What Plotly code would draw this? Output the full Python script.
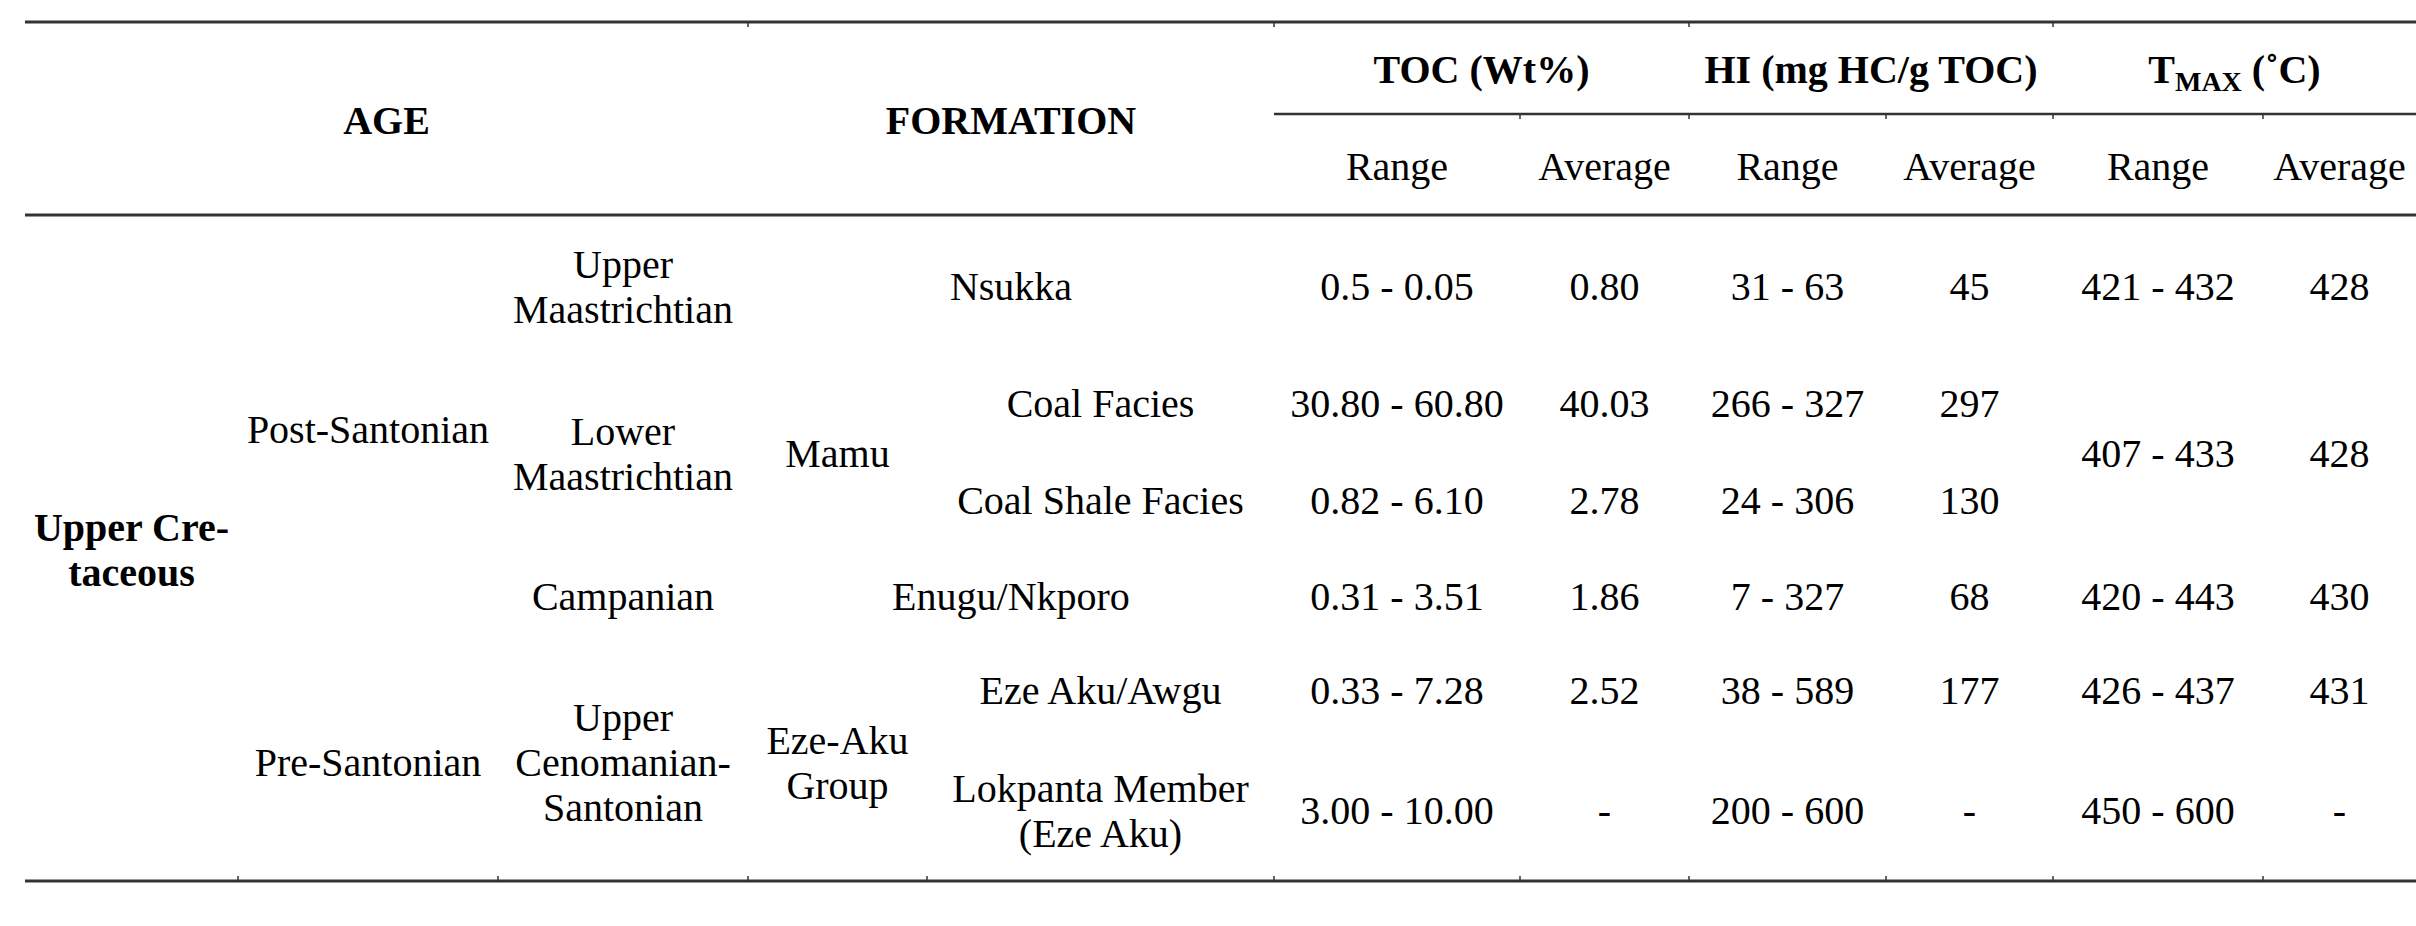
import plotly.graph_objects as go

# table content
era = ["Upper Cre-\ntaceous"]
stages = ["Post-Santonian", "Pre-Santonian"]
sub_ages = ["Upper\nMaastrichtian", "Lower\nMaastrichtian", "Campanian", "Upper\nCenomanian-\nSantonian"]
formations = ["Nsukka", "Mamu", "Enugu/Nkporo", "Eze-Aku\nGroup"]
members = ["Coal Facies", "Coal Shale Facies", "Eze Aku/Awgu", "Lokpanta Member\n(Eze Aku)"]

toc_range = ["0.5 - 0.05", "30.80 - 60.80", "0.82 - 6.10", "0.31 - 3.51", "0.33 - 7.28", "3.00 - 10.00"]
toc_avg = ["0.80", "40.03", "2.78", "1.86", "2.52", "-"]
hi_range = ["31 - 63", "266 - 327", "24 - 306", "7 - 327", "38 - 589", "200 - 600"]
hi_avg = ["45", "297", "130", "68", "177", "-"]
tmax_range = ["421 - 432", "407 - 433", "420 - 443", "426 - 437", "450 - 600"]
tmax_avg = ["428", "428", "430", "431", "-"]

group_heads = ["TOC (Wt%)", "HI (mg HC/g TOC)", "T<sub>MAX</sub> (˚C)"]
sub_heads = ["Range", "Average"]

# grid geometry (pixels)
W, H = 2416, 926
col_edges = [25, 238, 498, 748, 927, 1274, 1520, 1689, 1886, 2053, 2263, 2416]
row_edges = [215, 355, 449, 549, 641, 737, 881]
top_rule, mid_rule = 22, 114
FONT = "Liberation Serif"
SIZE = 40
LINE_GAP = 45
TEXT_DY = 5  # nudge text down a touch

xs, ys, txt, bold_flags = [], [], [], []


def put(text, c0, c1, y0, y1, bold=False):
    xc = (col_edges[c0] + col_edges[c1 + 1]) / 2
    yc = (y0 + y1) / 2 + TEXT_DY
    lines = text.split("\n")
    n = len(lines)
    for i, ln in enumerate(lines):
        xs.append(xc)
        ys.append(yc + (i - (n - 1) / 2) * LINE_GAP)
        txt.append(ln)
        bold_flags.append(bold)


def cell(text, c0, c1, r0, r1, bold=False):
    put(text, c0, c1, row_edges[r0], row_edges[r1 + 1], bold)


# header
put("AGE", 0, 2, top_rule, row_edges[0], True)
put("FORMATION", 3, 4, top_rule, row_edges[0], True)
for i, g in enumerate(group_heads):
    put(g, 5 + 2 * i, 6 + 2 * i, top_rule, mid_rule, True)
    for j, s in enumerate(sub_heads):
        put(s, 5 + 2 * i + j, 5 + 2 * i + j, mid_rule, row_edges[0])

# body - merged cells
cell(era[0], 0, 0, 0, 5, True)
cell(stages[0], 1, 1, 0, 3)
cell(stages[1], 1, 1, 4, 5)
for t, (r0, r1) in zip(sub_ages, [(0, 0), (1, 2), (3, 3), (4, 5)]):
    cell(t, 2, 2, r0, r1)
for t, (c1, r0, r1) in zip(formations, [(4, 0, 0), (3, 1, 2), (4, 3, 3), (3, 4, 5)]):
    cell(t, 3, c1, r0, r1)
for t, r in zip(members, [1, 2, 4, 5]):
    cell(t, 4, 4, r, r)
for r in range(6):
    cell(toc_range[r], 5, 5, r, r)
    cell(toc_avg[r], 6, 6, r, r)
    cell(hi_range[r], 7, 7, r, r)
    cell(hi_avg[r], 8, 8, r, r)
for t_r, t_a, (r0, r1) in zip(tmax_range, tmax_avg, [(0, 0), (1, 2), (3, 3), (4, 4), (5, 5)]):
    cell(t_r, 9, 9, r0, r1)
    cell(t_a, 10, 10, r0, r1)

fig = go.Figure()
for flag in (False, True):
    idx = [k for k, b in enumerate(bold_flags) if b == flag]
    fig.add_trace(go.Scatter(
        x=[xs[k] for k in idx],
        y=[ys[k] for k in idx],
        text=[txt[k] for k in idx],
        mode="text",
        textposition="middle center",
        textfont=dict(family=FONT, size=SIZE, color="#000000",
                      weight="bold" if flag else "normal"),
        hoverinfo="skip",
        showlegend=False,
    ))

# horizontal rules
rule_color = "#333333"
shapes = []
for y in (top_rule, row_edges[0], row_edges[-1]):
    shapes.append(dict(type="line", x0=col_edges[0], x1=W, y0=y, y1=y,
                       line=dict(color=rule_color, width=3)))
shapes.append(dict(type="line", x0=col_edges[5], x1=W, y0=mid_rule, y1=mid_rule,
                   line=dict(color=rule_color, width=2.5)))

# little column ticks on the rules
tick_sets = [
    (top_rule, [3, 5, 7, 9], 1),
    (mid_rule, [6, 7, 8, 9, 10], 1),
    (row_edges[-1], list(range(1, 11)), -1),
]
for y, cols, d in tick_sets:
    for c in cols:
        shapes.append(dict(type="line", x0=col_edges[c], x1=col_edges[c],
                           y0=y, y1=y + d * 5, line=dict(color=rule_color, width=1.5)))

fig.update_layout(
    width=W, height=H,
    margin=dict(l=0, r=0, t=0, b=0),
    paper_bgcolor="white", plot_bgcolor="white",
    xaxis=dict(range=[0, W], visible=False, fixedrange=True),
    yaxis=dict(range=[H, 0], visible=False, fixedrange=True),
    shapes=shapes,
)

fig.write_html("out.html", config={"displayModeBar": False},
               post_script="document.body.style.margin='0px';document.body.style.overflow='hidden';")
